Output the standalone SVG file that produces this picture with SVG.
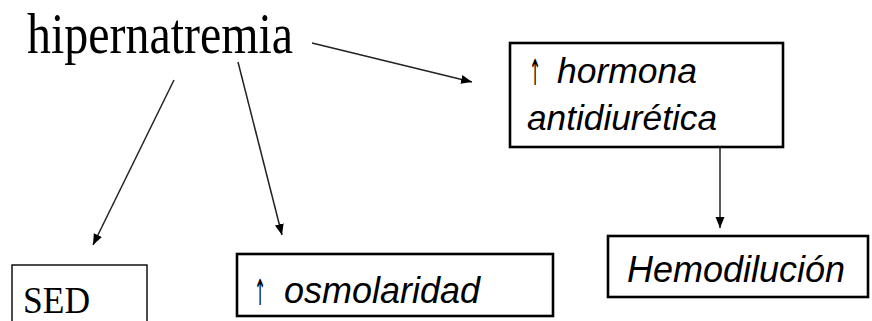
<svg xmlns="http://www.w3.org/2000/svg" width="872" height="321" viewBox="0 0 872 321">
<style>
.box{fill:#fff;stroke:#000;stroke-width:2.6}
.thin{fill:#fff;stroke:#000;stroke-width:1.4}
.conn{stroke:#222;stroke-width:1.5;fill:none;marker-end:url(#ah)}
.serif{font-family:"Liberation Serif","Times New Roman",serif;fill:#000}
.sans{font-family:"Liberation Sans",Arial,sans-serif;font-style:italic;fill:#000}
.up{font-family:"DejaVu Sans","Liberation Sans",sans-serif;font-style:italic;fill:#000}
</style>
<defs>
<marker id="ah" markerUnits="userSpaceOnUse" markerWidth="12" markerHeight="10" refX="11" refY="4.5" orient="auto">
<path d="M0,0 L11,4.5 L0,9 z" fill="#000"/>
</marker>
</defs>
<rect width="872" height="321" fill="#fff"/>
<g id="connectors">
<line class="conn" x1="312" y1="43" x2="472" y2="82"/>
<line class="conn" x1="174" y1="80" x2="93" y2="245"/>
<line class="conn" x1="238" y1="62" x2="282" y2="235"/>
<line class="conn" x1="720" y1="148" x2="720" y2="228"/>
</g>
<g id="hipernatremia">
<text class="serif" x="27" y="53" font-size="57" textLength="266" lengthAdjust="spacingAndGlyphs">hipernatremia</text>
</g>
<g id="hormona">
<rect class="box" x="510" y="43" width="273" height="104"/>
<text class="up" x="529" y="85" font-size="36" textLength="12" lengthAdjust="spacingAndGlyphs">↑</text>
<text class="sans" x="557" y="83" font-size="35" textLength="140" lengthAdjust="spacingAndGlyphs">hormona</text>
<text class="sans" x="527" y="130" font-size="35" textLength="190" lengthAdjust="spacingAndGlyphs">antidiurética</text>
</g>
<g id="sed">
<rect class="thin" x="12" y="265" width="135" height="70"/>
<text class="serif" x="23" y="313" font-size="38" textLength="67" lengthAdjust="spacingAndGlyphs">SED</text>
</g>
<g id="osmolaridad">
<rect class="box" x="237" y="254" width="316" height="62"/>
<text class="up" x="254" y="305" font-size="36" textLength="12" lengthAdjust="spacingAndGlyphs">↑</text>
<text class="sans" x="284" y="303" font-size="36" textLength="196" lengthAdjust="spacingAndGlyphs">osmolaridad</text>
</g>
<g id="hemodilucion">
<rect class="box" x="608" y="236" width="260" height="61"/>
<text class="sans" x="627" y="282" font-size="36" textLength="218" lengthAdjust="spacingAndGlyphs">Hemodilución</text>
</g>
</svg>
